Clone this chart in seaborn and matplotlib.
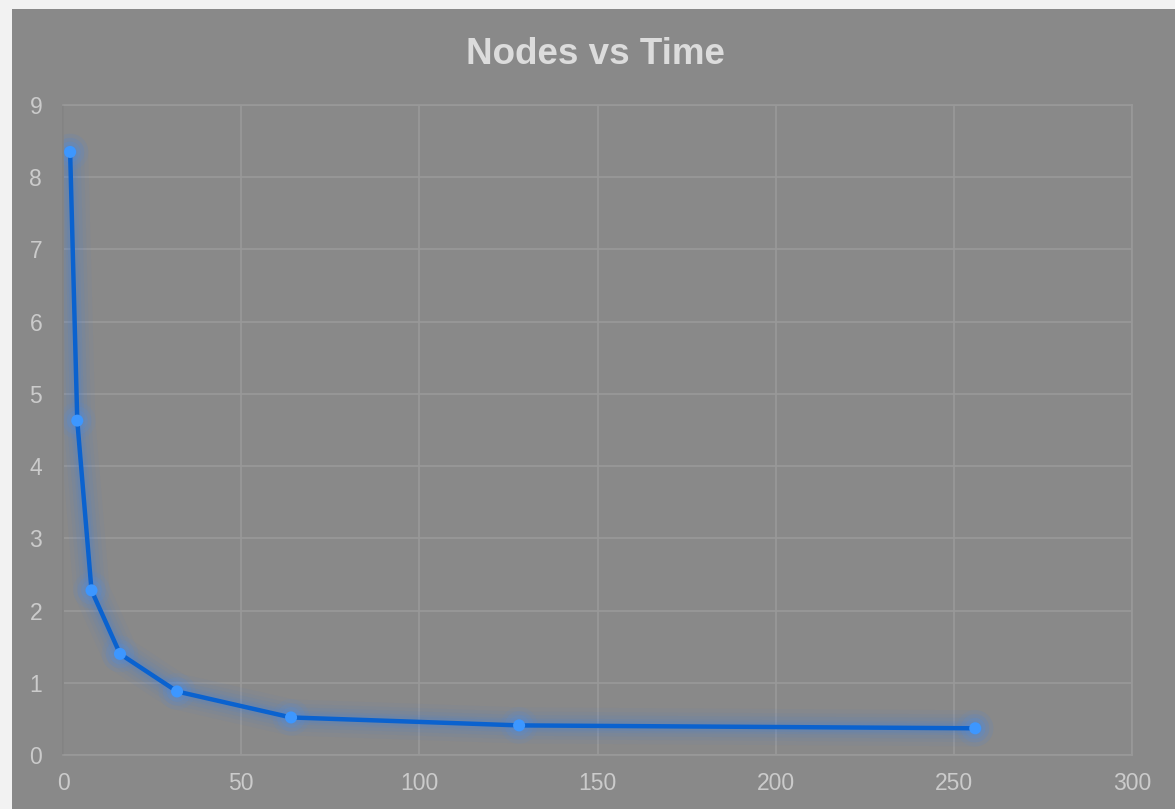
import matplotlib
matplotlib.use("Agg")
import matplotlib.pyplot as plt
import seaborn as sns
import pandas as pd
from matplotlib.patches import Rectangle

# Nodes used and the measured running time
nodes = [2, 4, 8, 16, 32, 64, 128, 256]
times = [8.35, 4.63, 2.28, 1.40, 0.88, 0.52, 0.41, 0.37]
x_ticks = [0, 50, 100, 150, 200, 250, 300]
y_ticks = [0, 1, 2, 3, 4, 5, 6, 7, 8, 9]
title = "Nodes vs Time"

df = pd.DataFrame({"Nodes": nodes, "Time": times})

sns.set_theme(style="white")
plt.rcParams["font.family"] = ["Liberation Sans", "DejaVu Sans"]

bg = "#898989"
grid_col = "#999999"
text_col = "#cbcbcb"

fig = plt.figure(figsize=(11.75, 8.09), dpi=100)
fig.patch.set_facecolor("#f2f2f2")
panel = Rectangle((12 / 1175, 0), 1 - 12 / 1175, 1 - 9 / 809,
                  transform=fig.transFigure, facecolor=bg,
                  edgecolor="none", zorder=-10)
fig.add_artist(panel)

ax = fig.add_axes([63 / 1175, 1 - 755 / 809, (1132 - 63) / 1175, (755 - 105) / 809])
ax.set_zorder(1)
ax.set_facecolor(bg)

# soft glow beneath the series
for lw, a in [(26, 0.05), (20, 0.06), (15, 0.08), (10, 0.10), (7, 0.12)]:
    sns.lineplot(data=df, x="Nodes", y="Time", ax=ax, color="#3f7fe0",
                 linewidth=lw, alpha=a, solid_capstyle="round",
                 solid_joinstyle="round", zorder=2, legend=False)
for s, a in [(700, 0.08), (420, 0.12), (220, 0.15)]:
    sns.scatterplot(data=df, x="Nodes", y="Time", ax=ax, color="#4a8ff0",
                    s=s, alpha=a, edgecolor="none", zorder=2, legend=False)

sns.lineplot(data=df, x="Nodes", y="Time", ax=ax, color="#0a62cf",
             linewidth=3.2, zorder=3, legend=False)
sns.scatterplot(data=df, x="Nodes", y="Time", ax=ax, color="#3d97ff",
                s=75, marker="o", edgecolor="none", zorder=4, legend=False)

ax.set_xlim(0, 300)
ax.set_ylim(0, 9)
ax.set_xticks(x_ticks)
ax.set_yticks(y_ticks)
ax.grid(True, color=grid_col, linewidth=1.2)
ax.set_axisbelow(True)
for side in ["top", "right", "bottom"]:
    ax.spines[side].set_color(grid_col)
    ax.spines[side].set_linewidth(1.2)
ax.spines["left"].set_color("#828282")
ax.spines["left"].set_linewidth(1.2)
ax.tick_params(axis="both", length=0, labelsize=16.5, labelcolor=text_col)
ax.tick_params(axis="x", pad=12)
ax.tick_params(axis="y", pad=15)
ax.set_xlabel("")
ax.set_ylabel("")

fig.text(0.507, 1 - 55 / 809, title, ha="center", va="center",
         fontsize=26.5, fontweight="bold", color="#dcdcdc")

fig.savefig("out.png", dpi=100, facecolor=fig.get_facecolor())
